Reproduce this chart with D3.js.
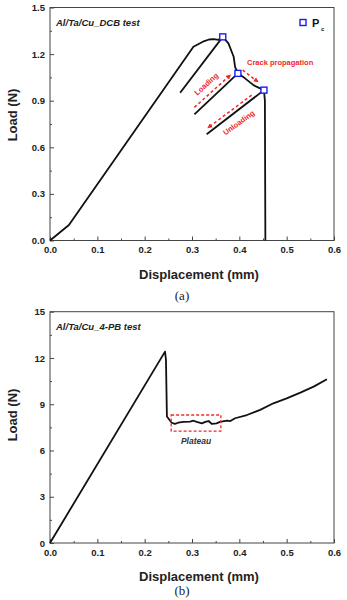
<!DOCTYPE html>
<html>
<head>
<meta charset="utf-8">
<script src="https://cdn.jsdelivr.net/npm/d3@7"></script>
<style>
  body { margin: 0; background: #fff; }
  svg text { font-family: "Liberation Sans", Arial, sans-serif; }
</style>
</head>
<body>
<div id="chart"></div>
<script>
// (a) DCB test - envelope of the load curve
var dcbDisp = [0, 0.04, 0.303, 0.316, 0.326, 0.336, 0.346, 0.356, 0.365, 0.377, 0.388, 0.391, 0.397, 0.412, 0.430, 0.444, 0.452, 0.454, 0.455];
var dcbLoad = [0, 0.10, 1.247, 1.268, 1.284, 1.294, 1.296, 1.292, 1.311, 1.269, 1.183, 1.118, 1.076, 1.044, 1.0, 0.979, 0.968, 0.9, 0];
// critical load points (Pc)
var pcDisp = [0.365, 0.397, 0.452];
var pcLoad = [1.311, 1.076, 0.968];
// unloading lines end points (start at each Pc)
var unloadDisp = [0.275, 0.305, 0.331];
var unloadLoad = [0.951, 0.812, 0.684];

// (b) 4-PB test
var pbDisp = [0, 0.243, 0.245, 0.247, 0.257, 0.264, 0.271, 0.282, 0.296, 0.303, 0.310, 0.321, 0.328, 0.335, 0.342, 0.352, 0.359, 0.374, 0.381, 0.391, 0.416, 0.444, 0.472, 0.500, 0.529, 0.557, 0.585];
var pbLoad = [0, 12.41, 11.87, 8.2, 7.80, 7.72, 7.80, 7.85, 7.87, 7.93, 7.85, 7.76, 7.85, 7.91, 7.72, 7.76, 7.85, 7.93, 7.91, 8.09, 8.30, 8.63, 9.06, 9.38, 9.75, 10.14, 10.62];

var xTicks = [0, 0.1, 0.2, 0.3, 0.4, 0.5, 0.6];
var yTicksA = [0, 0.3, 0.6, 0.9, 1.2, 1.5];
var yTicksB = [0, 3, 6, 9, 12, 15];

var W = 347, H = 600;
var red = '#f0282a';
var svg = d3.select('#chart').append('svg').attr('width', W).attr('height', H);

var defs = svg.append('defs');
defs.append('marker')
  .attr('id', 'arr')
  .attr('viewBox', '0 0 10 10')
  .attr('refX', 8).attr('refY', 5)
  .attr('markerWidth', 5).attr('markerHeight', 5)
  .attr('markerUnits', 'userSpaceOnUse')
  .attr('orient', 'auto')
  .append('path').attr('d', 'M0,0 L10,5 L0,10 z').attr('fill', red);

function drawPanel(cfg) {
  var x = d3.scaleLinear().domain([0, 0.6]).range([50, 334]);
  var y = d3.scaleLinear().domain([0, cfg.ymax]).range([cfg.y0, cfg.y1]);
  var g = svg.append('g');

  // minor ticks
  var xMinor = d3.range(0.05, 0.6, 0.1);
  var yMinor = cfg.yTicks.slice(0, -1).map(function(v, i) { return (v + cfg.yTicks[i + 1]) / 2; });
  g.append('g').attr('transform', 'translate(0,' + cfg.y0 + ')')
    .call(d3.axisBottom(x).tickValues(xMinor).tickSize(-2).tickFormat(''))
    .call(function(s) { s.select('.domain').remove(); s.selectAll('line').attr('stroke', '#444'); });
  g.append('g').attr('transform', 'translate(50,0)')
    .call(d3.axisLeft(y).tickValues(yMinor).tickSize(-2).tickFormat(''))
    .call(function(s) { s.select('.domain').remove(); s.selectAll('line').attr('stroke', '#444'); });

  // major axes
  g.append('g').attr('transform', 'translate(0,' + cfg.y0 + ')')
    .call(d3.axisBottom(x).tickValues(xTicks).tickSize(-4).tickSizeOuter(0).tickPadding(6).tickFormat(d3.format('.1f')))
    .call(function(s) {
      s.select('.domain').remove();
      s.selectAll('line').attr('stroke', '#444');
      s.selectAll('text').attr('font-size', '9.5px').attr('font-weight', 'bold').attr('fill', '#222')
        .attr('font-family', '"Liberation Sans", Arial, sans-serif');
    });
  g.append('g').attr('transform', 'translate(50,0)')
    .call(d3.axisLeft(y).tickValues(cfg.yTicks).tickSize(-4).tickSizeOuter(0).tickPadding(5).tickFormat(cfg.yFmt))
    .call(function(s) {
      s.select('.domain').remove();
      s.selectAll('line').attr('stroke', '#444');
      s.selectAll('text').attr('font-size', '9.5px').attr('font-weight', 'bold').attr('fill', '#222')
        .attr('font-family', '"Liberation Sans", Arial, sans-serif');
    });

  // frame
  g.append('rect')
    .attr('x', x(0)).attr('y', y(cfg.ymax))
    .attr('width', x(0.6) - x(0)).attr('height', y(0) - y(cfg.ymax))
    .attr('fill', 'none').attr('stroke', '#444').attr('stroke-width', 1);

  // axis titles
  g.append('text').attr('x', 199).attr('y', cfg.y0 + 38)
    .attr('text-anchor', 'middle').attr('font-size', '13px').attr('font-weight', 'bold').attr('fill', '#222')
    .text('Displacement (mm)');
  g.append('text').attr('transform', 'translate(17,' + cfg.ylabY + ') rotate(-90)')
    .attr('text-anchor', 'middle').attr('font-size', '13px').attr('font-weight', 'bold').attr('fill', '#222')
    .text('Load (N)');
  g.append('text').attr('x', 182).attr('y', Math.min(cfg.y0 + 59, 595))
    .attr('text-anchor', 'middle').attr('font-size', '13px').attr('fill', '#222')
    .style('font-family', '"Liberation Serif", "Times New Roman", serif')
    .text(cfg.panel);

  // test title
  g.append('text').attr('x', 56).attr('y', y(cfg.ymax) + 18)
    .attr('font-size', '9.5px').attr('font-weight', 'bold').attr('font-style', 'italic').attr('fill', '#222')
    .text(cfg.title);

  return { g: g, x: x, y: y };
}

// ---- panel (a)
var a = drawPanel({ ymax: 1.5, y0: 240.5, y1: 7.5, yTicks: yTicksA, yFmt: d3.format('.1f'),
  ylabY: 115, title: 'Al/Ta/Cu_DCB test', panel: '(a)' });

var lineA = d3.line().x(function(d) { return a.x(d[0]); }).y(function(d) { return a.y(d[1]); });
a.g.append('path')
  .datum(dcbDisp.map(function(d, i) { return [d, dcbLoad[i]]; }))
  .attr('fill', 'none').attr('stroke', '#111').attr('stroke-width', 1.8)
  .attr('stroke-linejoin', 'round')
  .attr('d', lineA);

a.g.selectAll('.unload')
  .data(pcDisp)
  .enter().append('line')
  .attr('class', 'unload')
  .attr('x1', function(d) { return a.x(d); })
  .attr('y1', function(d, i) { return a.y(pcLoad[i]); })
  .attr('x2', function(d, i) { return a.x(unloadDisp[i]); })
  .attr('y2', function(d, i) { return a.y(unloadLoad[i]); })
  .attr('stroke', '#111').attr('stroke-width', 1.8);

a.g.selectAll('.pc')
  .data(pcDisp)
  .enter().append('rect')
  .attr('class', 'pc')
  .attr('x', function(d) { return a.x(d) - 3; })
  .attr('y', function(d, i) { return a.y(pcLoad[i]) - 3; })
  .attr('width', 6).attr('height', 6)
  .attr('fill', '#fff').attr('stroke', '#1c1cf0').attr('stroke-width', 1.4);

// legend
a.g.append('rect').attr('x', 300).attr('y', 19.5).attr('width', 6).attr('height', 6)
  .attr('fill', '#fff').attr('stroke', '#1c1cf0').attr('stroke-width', 1.4);
a.g.append('text').attr('x', 312).attr('y', 27).attr('font-size', '11px').attr('font-weight', 'bold')
  .attr('fill', '#111').text('P');
a.g.append('text').attr('x', 321).attr('y', 31).attr('font-size', '6px').attr('font-weight', 'bold')
  .attr('fill', '#111').text('c');

// red annotations
var arrows = [
  { from: [0.305, 0.857], to: [0.381, 1.065] },
  { from: [0.426, 0.936], to: [0.334, 0.726] },
  { from: [0.407, 1.097], to: [0.439, 1.022] }
];
a.g.selectAll('.arrow')
  .data(arrows)
  .enter().append('line')
  .attr('class', 'arrow')
  .attr('x1', function(d) { return a.x(d.from[0]); })
  .attr('y1', function(d) { return a.y(d.from[1]); })
  .attr('x2', function(d) { return a.x(d.to[0]); })
  .attr('y2', function(d) { return a.y(d.to[1]); })
  .attr('stroke', red).attr('stroke-width', 1.5)
  .attr('stroke-dasharray', '3,2.5')
  .attr('marker-end', 'url(#arr)');

a.g.append('text')
  .attr('transform', 'translate(' + a.x(0.334) + ',' + a.y(0.995) + ') rotate(-42)')
  .attr('text-anchor', 'middle').attr('font-size', '7.5px').attr('font-weight', 'bold').attr('fill', red)
  .text('Loading');
a.g.append('text')
  .attr('transform', 'translate(' + a.x(0.402) + ',' + a.y(0.745) + ') rotate(-36)')
  .attr('text-anchor', 'middle').attr('font-size', '7.5px').attr('font-weight', 'bold').attr('fill', red)
  .text('Unloading');
a.g.append('text')
  .attr('x', 247).attr('y', 65)
  .attr('font-size', '7.5px').attr('font-weight', 'bold').attr('fill', red)
  .text('Crack propagation');

// ---- panel (b)
var b = drawPanel({ ymax: 15, y0: 543, y1: 311.7, yTicks: yTicksB, yFmt: d3.format('d'),
  ylabY: 415, title: 'Al/Ta/Cu_4-PB test', panel: '(b)' });

var lineB = d3.line().x(function(d) { return b.x(d[0]); }).y(function(d) { return b.y(d[1]); });
b.g.append('path')
  .datum(pbDisp.map(function(d, i) { return [d, pbLoad[i]]; }))
  .attr('fill', 'none').attr('stroke', '#111').attr('stroke-width', 1.8)
  .attr('stroke-linejoin', 'round')
  .attr('d', lineB);

// plateau box
b.g.append('rect')
  .attr('x', b.x(0.256)).attr('y', b.y(8.3))
  .attr('width', b.x(0.361) - b.x(0.256)).attr('height', b.y(7.26) - b.y(8.3))
  .attr('fill', 'none').attr('stroke', red).attr('stroke-width', 1.3)
  .attr('stroke-dasharray', '3,2');
b.g.append('text')
  .attr('x', b.x(0.3085)).attr('y', 444)
  .attr('text-anchor', 'middle').attr('font-size', '8.5px').attr('font-weight', 'bold').attr('font-style', 'italic')
  .attr('fill', '#333').text('Plateau');
</script>
</body>
</html>
